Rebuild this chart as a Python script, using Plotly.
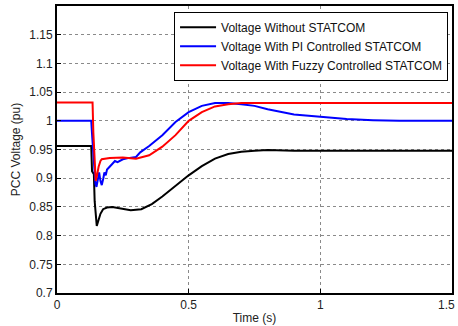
import plotly.graph_objects as go

# Time samples (s) and voltages (pu)
t_black = [0, 0.13, 0.133, 0.14, 0.143, 0.146, 0.151, 0.157, 0.165, 0.175, 0.19, 0.21, 0.24, 0.28,
           0.32, 0.36, 0.4, 0.45, 0.5, 0.55, 0.6, 0.65, 0.7, 0.75, 0.8, 0.9, 1.2, 1.5]
v_black = [0.956, 0.956, 0.912, 0.907, 0.86, 0.835, 0.817, 0.826, 0.838, 0.846, 0.849, 0.85, 0.847, 0.844,
           0.846, 0.855, 0.868, 0.887, 0.905, 0.921, 0.934, 0.942, 0.946, 0.948, 0.949, 0.948, 0.948, 0.948]

t_pi = [0, 0.13, 0.134, 0.14, 0.146, 0.15, 0.155, 0.16, 0.165, 0.17, 0.176, 0.18, 0.185, 0.19, 0.2,
        0.21, 0.22, 0.23, 0.25, 0.27, 0.3, 0.316, 0.35, 0.4, 0.45, 0.5, 0.55, 0.6, 0.65, 0.7, 0.75,
        0.8, 0.85, 0.9, 1.0, 1.1, 1.2, 1.3, 1.5]
v_pi = [1.0, 1.0, 0.97, 0.93, 0.89, 0.885, 0.9, 0.91, 0.895, 0.888, 0.9, 0.91, 0.905, 0.915, 0.92,
        0.925, 0.93, 0.928, 0.933, 0.935, 0.937, 0.945, 0.956, 0.975, 0.998, 1.015, 1.026, 1.031, 1.031, 1.029, 1.026,
        1.02, 1.015, 1.011, 1.007, 1.003, 1.001, 1.0, 1.0]

t_fuzzy = [0, 0.135, 0.138, 0.142, 0.147, 0.152, 0.158, 0.165, 0.17, 0.2, 0.25, 0.3, 0.33, 0.35,
           0.4, 0.45, 0.5, 0.55, 0.6, 0.65, 0.7, 0.75, 1.5]
v_fuzzy = [1.032, 1.032, 0.98, 0.93, 0.895, 0.905, 0.92, 0.93, 0.933, 0.935, 0.936, 0.934, 0.937, 0.94,
           0.955, 0.975, 1.0, 1.015, 1.025, 1.029, 1.031, 1.031, 1.031]

names = ["Voltage Without STATCOM", "Voltage With PI Controlled STATCOM", "Voltage With Fuzzy Controlled STATCOM"]
colors = ["#000000", "#0000ff", "#ff0000"]

x_ticks = [0, 0.5, 1, 1.5]
x_tick_labels = ["0", "0.5", "1", "1.5"]
y_ticks = [0.7, 0.75, 0.8, 0.85, 0.9, 0.95, 1.0, 1.05, 1.1, 1.15]
y_tick_labels = ["0.7", "0.75", "0.8", "0.85", "0.9", "0.95", "1", "1.05", "1.1", "1.15"]

FONT = "Liberation Sans, Arial"

fig = go.Figure()
for tx, vy, nm, c in [(t_black, v_black, names[0], colors[0]),
                      (t_pi, v_pi, names[1], colors[1]),
                      (t_fuzzy, v_fuzzy, names[2], colors[2])]:
    fig.add_trace(go.Scatter(x=tx, y=vy, mode="lines", name=nm, line=dict(color=c, width=2)))

axis_common = dict(showline=True, linecolor="black", linewidth=2, mirror=True,
                   showgrid=True, gridcolor="#8a8a8a", griddash="dot", gridwidth=1,
                   ticks="inside", ticklen=4, tickcolor="black", zeroline=False,
                   automargin=False,
                   tickfont=dict(family=FONT, size=12, color="#222"))

fig.update_xaxes(range=[0, 1.5], tickvals=x_ticks, ticktext=x_tick_labels,
                 title=dict(text="Time (s)", font=dict(family=FONT, size=12, color="#222"), standoff=2),
                 **axis_common)
fig.update_yaxes(range=[0.7, 1.2], tickvals=y_ticks, ticktext=y_tick_labels,
                 title=dict(text="PCC Voltage (pu)", font=dict(family=FONT, size=12, color="#222"), standoff=6),
                 **axis_common)

# last x tick label sits at the right edge
fig.add_annotation(x=x_ticks[-1], y=0, xref="x", yref="paper", yanchor="top", xanchor="right",
                   xshift=5, yshift=-3, text=x_tick_labels[-1], showarrow=False,
                   font=dict(family=FONT, size=12, color="#222"))

fig.update_layout(
    width=458, height=326,
    margin=dict(l=57, r=6, t=6, b=33),
    paper_bgcolor="white", plot_bgcolor="white",
    showlegend=True,
    legend=dict(x=0.99, y=0.98, xanchor="right", yanchor="top",
                bgcolor="white", bordercolor="black", borderwidth=1,
                font=dict(family=FONT, size=12, color="#111"),
                tracegroupgap=0, itemwidth=36),
)

fig.write_html("out.html", config={"displayModeBar": False},
               post_script="document.body.style.margin='0';document.body.style.padding='0';")
